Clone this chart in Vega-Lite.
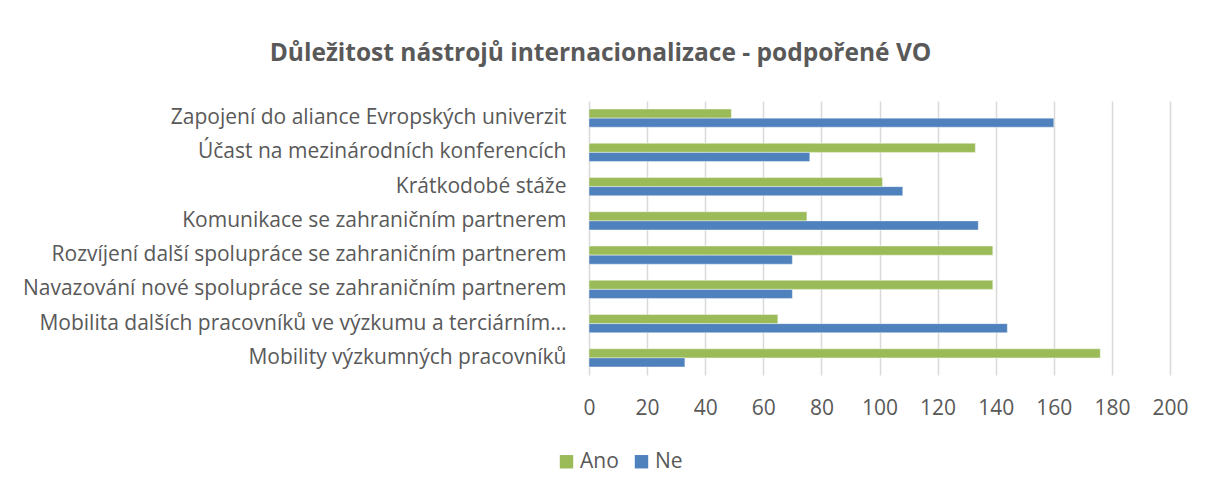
{
  "$schema": "https://vega.github.io/schema/vega-lite/v6.json",
  "autosize": "none",
  "width": 581,
  "height": 274,
  "padding": {"left": 589, "top": 101, "right": 40, "bottom": 115},
  "background": "white",
  "config": {"view": {"stroke": null}, "font": "Open Sans"},
  "title": {
    "text": "Důležitost nástrojů internacionalizace - podpořené VO",
    "font": "Open Sans",
    "fontSize": 24.5,
    "fontWeight": "bold",
    "color": "#595959",
    "anchor": "middle",
    "dx": -279,
    "offset": 35
  },
  "data": {
    "values": [
      {"kategorie": "Zapojení do aliance Evropských univerzit", "odpoved": "Ano", "pocet": 49},
      {"kategorie": "Zapojení do aliance Evropských univerzit", "odpoved": "Ne", "pocet": 160},
      {"kategorie": "Účast na mezinárodních konferencích", "odpoved": "Ano", "pocet": 133},
      {"kategorie": "Účast na mezinárodních konferencích", "odpoved": "Ne", "pocet": 76},
      {"kategorie": "Krátkodobé stáže", "odpoved": "Ano", "pocet": 101},
      {"kategorie": "Krátkodobé stáže", "odpoved": "Ne", "pocet": 108},
      {"kategorie": "Komunikace se zahraničním partnerem", "odpoved": "Ano", "pocet": 75},
      {"kategorie": "Komunikace se zahraničním partnerem", "odpoved": "Ne", "pocet": 134},
      {"kategorie": "Rozvíjení další spolupráce se zahraničním partnerem", "odpoved": "Ano", "pocet": 139},
      {"kategorie": "Rozvíjení další spolupráce se zahraničním partnerem", "odpoved": "Ne", "pocet": 70},
      {"kategorie": "Navazování nové spolupráce se zahraničním partnerem", "odpoved": "Ano", "pocet": 139},
      {"kategorie": "Navazování nové spolupráce se zahraničním partnerem", "odpoved": "Ne", "pocet": 70},
      {"kategorie": "Mobilita dalších pracovníků ve výzkumu a terciárním…", "odpoved": "Ano", "pocet": 65},
      {"kategorie": "Mobilita dalších pracovníků ve výzkumu a terciárním…", "odpoved": "Ne", "pocet": 144},
      {"kategorie": "Mobility výzkumných pracovníků", "odpoved": "Ano", "pocet": 176},
      {"kategorie": "Mobility výzkumných pracovníků", "odpoved": "Ne", "pocet": 33}
    ]
  },
  "mark": {"type": "bar", "strokeWidth": 0.4},
  "encoding": {
    "y": {
      "field": "kategorie",
      "type": "nominal",
      "sort": null,
      "scale": {"paddingInner": 0.47, "paddingOuter": 0.235},
      "axis": {
        "title": null,
        "domain": false,
        "ticks": false,
        "labelPadding": 23,
        "labelFontSize": 21,
        "labelColor": "#595959",
        "labelLimit": 700,
        "grid": false
      }
    },
    "yOffset": {"field": "odpoved", "type": "nominal", "sort": ["Ano", "Ne"], "scale": {"paddingInner": 0, "paddingOuter": 0}},
    "x": {
      "field": "pocet",
      "type": "quantitative",
      "scale": {"domain": [0, 200], "nice": false},
      "axis": {
        "title": null,
        "values": [0, 20, 40, 60, 80, 100, 120, 140, 160, 180, 200],
        "domain": false,
        "ticks": false,
        "labelFlush": false,
        "labelPadding": 22,
        "labelFontSize": 21,
        "labelColor": "#595959",
        "gridColor": "#D9D9D9",
        "gridWidth": 1.5
      }
    },
    "color": {
      "field": "odpoved",
      "type": "nominal",
      "sort": ["Ano", "Ne"],
      "scale": {"domain": ["Ano", "Ne"], "range": ["#9BBB59", "#4F81BD"]},
      "legend": {
        "title": null,
        "orient": "none",
        "direction": "horizontal",
        "legendX": -33,
        "legendY": 350,
        "symbolType": "square",
        "symbolSize": 180,
        "symbolStrokeWidth": 0,
        "labelFontSize": 21,
        "labelColor": "#595959",
        "columnPadding": 12,
        "labelOffset": 3
      }
    },
    "stroke": {"value": "white"}
  }
}
